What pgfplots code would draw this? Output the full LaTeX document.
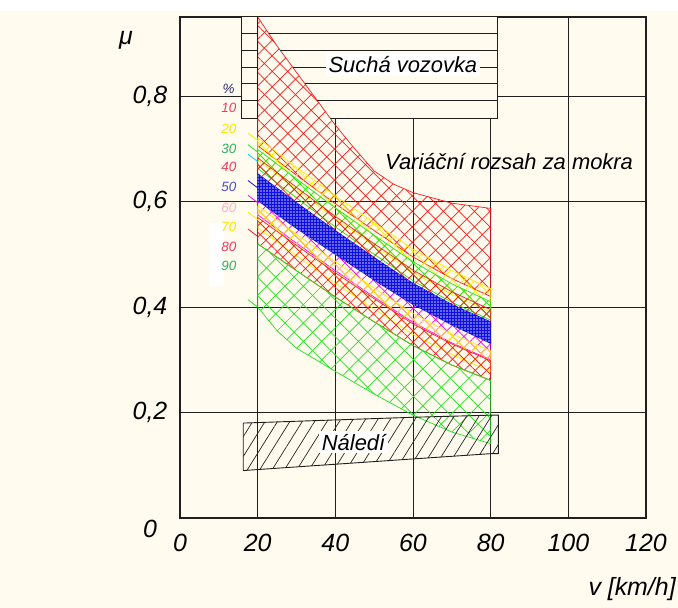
\documentclass[border=0pt]{standalone}
\usepackage{fontspec}
\setmainfont{Liberation Sans}
\usepackage{pgfplots}
\pgfplotsset{compat=1.18}
\usepackage{pgfplotstable}
\usetikzlibrary{patterns.meta}

\definecolor{bgc}{RGB}{255,251,238}
\definecolor{hred}{RGB}{255,25,25}
\definecolor{hyel}{RGB}{250,238,0}
\definecolor{hgrn}{RGB}{30,230,30}
\definecolor{hmag}{RGB}{255,0,255}
\definecolor{hblu}{RGB}{15,15,225}
\definecolor{hcyan}{RGB}{0,215,230}
\definecolor{lred}{RGB}{245,55,95}
\definecolor{lyel}{RGB}{250,228,0}
\definecolor{lgrn}{RGB}{40,180,95}
\definecolor{lblu}{RGB}{75,75,205}
\definecolor{lpnk}{RGB}{255,175,195}
\definecolor{lnav}{RGB}{40,45,100}

% band polygons: upper boundary left->right, lower boundary right->left
\pgfplotstableread{
x y
20 0.95
25 0.895
30 0.845
35 0.795
40 0.745
45 0.700
50 0.658
55 0.633
60 0.617
70 0.597
80 0.587
80 0.420
70 0.454
60 0.495
50 0.545
40 0.596
30 0.650
20 0.706
20 0.95
}\tA
\pgfplotstableread{
x y
20 0.721
30 0.665
40 0.611
50 0.560
60 0.510
70 0.469
80 0.435
80 0.390
70 0.424
60 0.466
50 0.516
40 0.568
30 0.623
20 0.679
20 0.721
}\tB
\pgfplotstableread{
x y
20 0.699
30 0.643
40 0.588
50 0.536
60 0.486
70 0.444
80 0.410
80 0.375
70 0.409
60 0.450
50 0.500
40 0.552
30 0.607
20 0.663
20 0.699
}\tC
\pgfplotstableread{
x y
20 0.683
30 0.627
40 0.572
50 0.520
60 0.470
70 0.429
80 0.395
80 0.362
70 0.395
60 0.435
50 0.484
40 0.535
30 0.588
20 0.643
20 0.683
}\tD
\pgfplotstableread{
x y
20 0.653
30 0.598
40 0.545
50 0.494
60 0.445
70 0.405
80 0.372
80 0.331
70 0.366
60 0.405
50 0.451
40 0.500
30 0.549
20 0.602
20 0.653
}\tE
\pgfplotstableread{
x y
20 0.610
30 0.557
40 0.508
50 0.459
60 0.413
70 0.374
80 0.339
80 0.300
70 0.332
60 0.371
50 0.419
40 0.469
30 0.521
20 0.575
20 0.610
}\tF
\pgfplotstableread{
x y
20 0.592
30 0.538
40 0.486
50 0.436
60 0.388
70 0.349
80 0.317
80 0.278
70 0.310
60 0.348
50 0.396
40 0.445
30 0.497
20 0.550
20 0.592
}\tG
\pgfplotstableread{
x y
20 0.570
30 0.517
40 0.465
50 0.416
60 0.368
70 0.330
80 0.298
80 0.261
70 0.290
60 0.327
50 0.372
40 0.419
30 0.469
20 0.520
20 0.570
}\tH
\pgfplotstableread{
x y
20 0.520
30 0.469
40 0.419
50 0.372
60 0.327
70 0.290
80 0.261
80 0.141
70 0.163
60 0.195
50 0.235
40 0.278
30 0.322
25 0.355
20 0.400
20 0.520
}\tI
\pgfplotstableread{
x y
16.3 0.180
60 0.191
80 0.195
82 0.195
82 0.122
80 0.122
60 0.112
16.3 0.090
16.3 0.180
}\tN

\newcommand{\band}[3]{%
\addplot[draw=#2, line width=0.7bp, pattern={Lines[angle=45,distance=#3,line width=0.7bp]}, pattern color=#2] table {#1};
\addplot[draw=none, pattern={Lines[angle=-45,distance=#3,line width=0.7bp]}, pattern color=#2] table {#1};
}

\begin{document}
\begin{tikzpicture}
\useasboundingbox (-180bp,-90bp) rectangle (498bp,518bp);
\fill[bgc] (-180bp,-90bp) rectangle (498bp,507bp);
\fill[white] (-180bp,507bp) rectangle (498bp,518bp);
\begin{axis}[at={(0,0)}, anchor=south west, scale only axis, width=466bp, height=501bp,
 xmin=0, xmax=120, ymin=0, ymax=0.95, clip=false,
 xtick={0,20,...,120}, xticklabels={0,20,40,60,80,100,120},
 ytick={0.2,0.4,0.6,0.8}, yticklabels={{0,2},{0,4},{0,6},{0,8}},
 major tick length=0pt,
 grid=major, grid style={black!88, line width=1bp},
 axis line style={black!88, line width=1.1bp},
 ticklabel style={font=\fontsize{25}{30}\selectfont\itshape},
 xticklabel style={anchor=center, yshift=-25bp},
 yticklabel style={anchor=center, xshift=-30bp},
]
% dry road box (background)
\fill[bgc] (axis cs:15.9,0.758) rectangle (axis cs:81.8,0.95);

% bands
\band{\tA}{hred}{11bp}
\band{\tB}{hyel}{8bp}
\band{\tC}{hgrn}{8bp}
\band{\tD}{hred}{8bp}
\band{\tF}{hmag}{8bp}
\band{\tG}{hyel}{8bp}
\band{\tH}{hred}{8bp}
\band{\tI}{hgrn}{13bp}
\addplot[draw=hblu, line width=0.7bp, fill=hblu] table {\tE};
\addplot[draw=none, pattern={Dots[radius=0.85bp,distance=3bp]}, pattern color=white!75!hblu] table {\tE};

% leader lines left of 20
\addplot[hyel, line width=0.8bp] coordinates {(17.5,0.730) (20,0.716)};
\addplot[hgrn, line width=0.8bp] coordinates {(17.5,0.708) (20,0.694)};
\addplot[hcyan, line width=0.8bp] coordinates {(17.5,0.690) (20,0.676)};
\addplot[hblu, line width=0.8bp] coordinates {(17.5,0.640) (20,0.626)};
\addplot[hmag, line width=0.8bp] coordinates {(17.5,0.612) (20,0.598)};
\addplot[hyel, line width=0.8bp] coordinates {(17.5,0.580) (20,0.566)};
\addplot[hred, line width=0.8bp] coordinates {(17.5,0.548) (20,0.534)};
\addplot[hgrn, line width=0.8bp] coordinates {(17.5,0.414) (20,0.400)};

% dry road box lines
\draw[black!88, line width=1bp] (axis cs:15.9,0.95) -- (axis cs:15.9,0.758) -- (axis cs:20,0.758);
\draw[black!88, line width=1bp] (axis cs:38.7,0.758) -- (axis cs:81.8,0.758) -- (axis cs:81.8,0.95);
\draw[black!88, line width=1bp] (axis cs:20,0.758) -- (axis cs:20,0.95);
\draw[black!88, line width=1bp] (axis cs:15.9,0.919) -- (axis cs:20,0.919) (axis cs:22.8,0.919) -- (axis cs:81.8,0.919);
\draw[black!88, line width=1bp] (axis cs:15.9,0.887) -- (axis cs:20,0.887) (axis cs:25.8,0.887) -- (axis cs:81.8,0.887);
\draw[black!88, line width=1bp] (axis cs:15.9,0.855) -- (axis cs:20,0.855) (axis cs:29.0,0.855) -- (axis cs:81.8,0.855);
\draw[black!88, line width=1bp] (axis cs:15.9,0.823) -- (axis cs:20,0.823) (axis cs:32.2,0.823) -- (axis cs:81.8,0.823);
\draw[black!88, line width=1bp] (axis cs:15.9,0.792) -- (axis cs:20,0.792) (axis cs:35.3,0.792) -- (axis cs:81.8,0.792);

% ice box
\addplot[draw=black!88, line width=0.9bp, pattern={Lines[angle=58,distance=10.5bp,line width=0.7bp]}, pattern color=black!85] table {\tN};

% labels
\node[fill=white, inner sep=2.5bp, font=\fontsize{22}{26}\selectfont\itshape] at (axis cs:57.4,0.859) {Suchá vozovka};
\node[anchor=west, inner sep=0pt, font=\fontsize{22}{26}\selectfont\itshape] at (axis cs:52.8,0.675) {Variáční rozsah za mokra};
\node[fill=white, inner sep=2.5bp, font=\fontsize{22}{26}\selectfont\itshape] at (axis cs:44.7,0.1438) {Náledí};

% legend of percentages
\fill[white] (axis cs:7.5,0.44) rectangle (axis cs:11.3,0.56);
\node[lnav, inner sep=0pt, font=\fontsize{13.5}{15}\selectfont\itshape] at (axis cs:12.5,0.814) {\%};
\node[lred, inner sep=0pt, font=\fontsize{13.5}{15}\selectfont\itshape] at (axis cs:12.6,0.777) {10};
\node[lyel, inner sep=0pt, font=\fontsize{13.5}{15}\selectfont\itshape] at (axis cs:12.6,0.7385) {20};
\node[lgrn, inner sep=0pt, font=\fontsize{13.5}{15}\selectfont\itshape] at (axis cs:12.6,0.700) {30};
\node[lred, inner sep=0pt, font=\fontsize{13.5}{15}\selectfont\itshape] at (axis cs:12.6,0.666) {40};
\node[lblu, inner sep=0pt, font=\fontsize{13.5}{15}\selectfont\itshape] at (axis cs:12.6,0.628) {50};
\node[lpnk, inner sep=0pt, font=\fontsize{13.5}{15}\selectfont\itshape] at (axis cs:12.6,0.589) {60};
\node[lyel, inner sep=0pt, font=\fontsize{13.5}{15}\selectfont\itshape] at (axis cs:12.6,0.552) {70};
\node[lred, inner sep=0pt, font=\fontsize{13.5}{15}\selectfont\itshape] at (axis cs:12.6,0.515) {80};
\node[lgrn, inner sep=0pt, font=\fontsize{13.5}{15}\selectfont\itshape] at (axis cs:12.6,0.479) {90};

% axis descriptions
\node[font=\fontsize{25}{30}\selectfont\itshape] at (axis cs:-13.9,0.906) {μ};
\node[font=\fontsize{25}{30}\selectfont\itshape] at (rel axis cs:0,0) [xshift=-30bp, yshift=-11bp] {0};
\node[anchor=east, inner sep=0pt, font=\fontsize{25}{30}\selectfont\itshape] at (axis cs:127.7,-0.134) {v [km/h]};
\end{axis}
\end{tikzpicture}
\end{document}
